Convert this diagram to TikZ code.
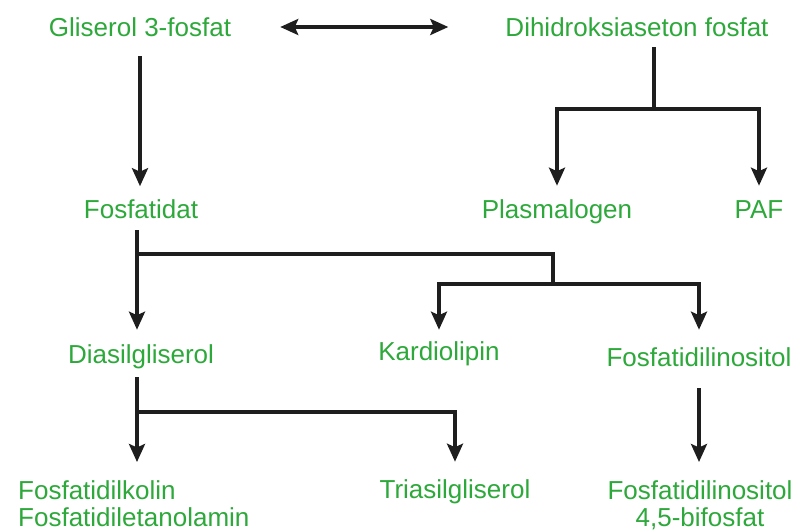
\documentclass[tikz,border=0pt]{standalone}
\usepackage{fontspec}
\setmainfont{Liberation Sans}
\usetikzlibrary{arrows.meta,calc}
\definecolor{lipgreen}{RGB}{45,168,58}
\definecolor{linedark}{RGB}{30,30,30}
\tikzset{
  lbl/.style={text=lipgreen, font=\fontsize{26}{29}\selectfont, inner sep=0pt,
              text height=23.4pt, text depth=4.8pt},
  lblmulti/.style={text=lipgreen, font=\fontsize{26}{27}\selectfont, inner sep=0pt},
  link/.style={draw=linedark, line width=3.4pt},
  flow/.style={link, -{Stealth[length=18pt,width=16pt,inset=3.5pt]}},
  flowboth/.style={link, {Stealth[length=18pt,width=16pt,inset=3.5pt]}-{Stealth[length=18pt,width=16pt,inset=3.5pt]}}
}
\begin{document}
\begin{tikzpicture}[x=1pt,y=-1pt]
  \fill[white] (0,0) rectangle (800,532);
  \useasboundingbox (0,0) rectangle (800,532);

  % compounds
  \node[lbl] (gli)  at (140,27)   {Gliserol 3-fosfat};
  \node[lbl] (dhap) at (637,27)   {Dihidroksiaseton fosfat};
  \node[lbl] (fos)  at (141,209.5) {Fosfatidat};
  \node[lbl] (plas) at (557,209.5) {Plasmalogen};
  \node[lbl] (paf)  at (759,209.5) {PAF};
  \node[lbl] (dia)  at (141,354)  {Diasilgliserol};
  \node[lbl] (kar)  at (439,351)  {Kardiolipin};
  \node[lbl] (fin)  at (699,357.5) {Fosfatidilinositol};
  \node[lbl] (tri)  at (455,489)  {Triasilgliserol};
  \node[lblmulti, anchor=north west, align=left] (pc) at (18,480)
       {Fosfatidilkolin\\Fosfatidiletanolamin};
  \node[lblmulti, anchor=north, align=center] (pip) at (700,480)
       {Fosfatidilinositol\\4,5-bifosfat};

  % branch points
  \coordinate (dsplit) at (654,109);
  \coordinate (fsplit) at (137,254);
  \coordinate (ksplit) at (553,284);
  \coordinate (gsplit) at (137,412);

  % glycerol 3-phosphate <-> DHAP
  \draw[flowboth, shorten <=49pt, shorten >=57pt] (gli.east) -- (dhap.west);

  % glycerol 3-phosphate -> phosphatidate
  \draw[flow, shorten <=15pt, shorten >=9pt] (gli.south) -- (gli.south |- fos.north);

  % DHAP -> plasmalogen, PAF
  \draw[link, shorten <=6pt] (dsplit |- dhap.south) -- (dsplit);
  \draw[flow, shorten >=9.5pt] (dsplit) -| (plas.north);
  \draw[flow, shorten >=9.5pt] (dsplit) -| (paf.north);

  % phosphatidate -> diacylglycerol, cardiolipin, phosphatidylinositol
  \draw[flow, shorten <=6.5pt, shorten >=10pt] (fsplit |- fos.south) -- (fsplit |- dia.north);
  \draw[link] (fsplit) -| (ksplit);
  \draw[flow, shorten >=7pt] (ksplit) -| (kar.north);
  \draw[flow, shorten >=13.5pt] (ksplit) -| (fin.north);

  % diacylglycerol -> phospholipids, triacylglycerol
  \draw[flow, shorten <=9pt, shorten >=18pt] (gsplit |- dia.south) -- (gsplit |- pc.north);
  \draw[flow, shorten >=13pt] (gsplit) -| (tri.north);

  % phosphatidylinositol -> PIP2
  \draw[flow, shorten <=16.5pt, shorten >=18pt] (fin.south) -- (fin.south |- pip.north);
\end{tikzpicture}
\end{document}
